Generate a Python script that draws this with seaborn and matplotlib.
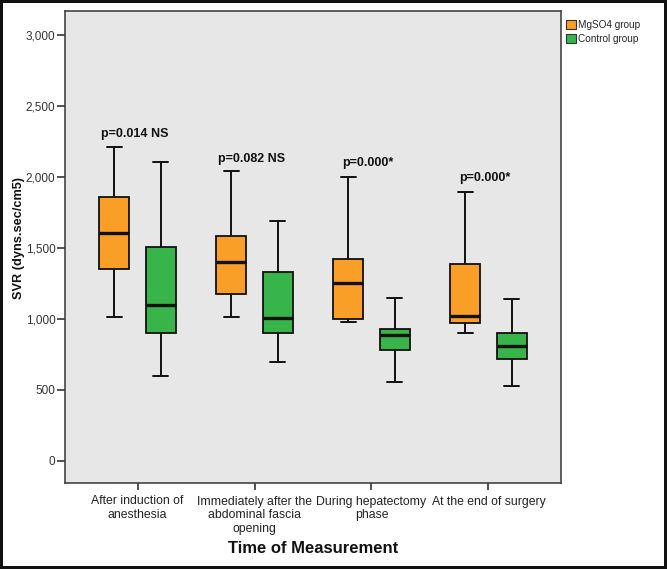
import numpy as np
import pandas as pd
import matplotlib
matplotlib.use("Agg")
import matplotlib.pyplot as plt
from matplotlib.ticker import FuncFormatter
from matplotlib.patches import Patch
import seaborn as sns

# ---- data (five-number summaries) ----
times = ["After induction of\nanesthesia",
         "Immediately after the\nabdominal fascia\nopening",
         "During hepatectomy\nphase",
         "At the end of surgery"]
groups = ["MgSO4 group", "Control group"]

mg_low = [1016, 1012, 979, 904]
mg_q1 = [1350, 1178, 1000, 970]
mg_med = [1603, 1404, 1256, 1023]
mg_q3 = [1861, 1587, 1423, 1385]
mg_high = [2209, 2042, 1998, 1892]

ct_low = [599, 699, 558, 530]
ct_q1 = [904, 904, 782, 718]
ct_med = [1101, 1009, 889, 812]
ct_q3 = [1507, 1333, 927, 899]
ct_high = [2103, 1692, 1148, 1139]

p_labels = ["p=0.014 NS", "p=0.082 NS", "p=0.000*", "p=0.000*"]
p_y = [2303, 2127, 2099, 1993]

colors = ["#f99e26", "#37b54a"]

rows = []
for g, (lo, q1, md, q3, hi) in zip(groups, [(mg_low, mg_q1, mg_med, mg_q3, mg_high),
                                             (ct_low, ct_q1, ct_med, ct_q3, ct_high)]):
    for i, t in enumerate(times):
        for v in (lo[i], q1[i], md[i], q3[i], hi[i]):
            rows.append({"time": t, "group": g, "SVR": v})
df = pd.DataFrame(rows)

sns.set_style("white")
plt.rcParams["font.family"] = ["Liberation Sans", "DejaVu Sans"]

fig = plt.figure(figsize=(6.67, 5.69), dpi=100)
fig.patch.set_facecolor("white")
fig.patch.set_edgecolor("#111111")
fig.patch.set_linewidth(4)
ax = fig.add_axes([65/667, 1-483/569, (561-65)/667, (483-11)/569])
ax.set_facecolor("#e7e7e7")

sns.boxplot(data=df, x="time", y="SVR", hue="group", order=times, hue_order=groups,
            palette=colors, saturation=1, whis=(0, 100), width=0.8, gap=0.36,
            linecolor="#111111", linewidth=1.3,
            medianprops=dict(linewidth=2.4, color="#111111"),
            whiskerprops=dict(linewidth=1.4), capprops=dict(linewidth=1.4),
            legend=False, ax=ax)

ax.set_xlim(-0.62, 3.62)
ax.set_ylim(-155, 3169)
ax.set_yticks(np.arange(0, 3001, 500))
ax.yaxis.set_major_formatter(FuncFormatter(lambda v, p: f"{v:,.0f}"))
ax.tick_params(axis="y", left=True, length=5.8, width=1.2, color="#333333", labelsize=8.5,
               labelcolor="#333333", pad=1)
ax.tick_params(axis="x", bottom=True, length=5, width=1.2, color="#333333", labelsize=8.8,
               labelcolor="#222222", pad=4)
for s in ax.spines.values():
    s.set_color("#444444")
    s.set_linewidth(1.2)

ax.set_xlabel("Time of Measurement", fontsize=12, fontweight="bold", color="#111111")
ax.xaxis.set_label_coords(0.5, -0.122)
ax.set_ylabel("SVR (dyns.sec/cm5)", fontsize=9.2, fontweight="bold", color="#111111")
ax.yaxis.set_label_coords(-0.08, 0.52)

xoff = [-0.316, 0.686, 1.746, 2.746]
for x, y, s in zip(xoff, p_y, p_labels):
    ax.text(x, y, s, fontsize=9, fontweight="bold", ha="left", va="center", color="#111111")

handles = [Patch(facecolor=c, edgecolor="#333333", linewidth=0.8) for c in colors]
fig.legend(handles, groups, loc="upper left", bbox_to_anchor=(566/667, 1-20/569),
           frameon=False, fontsize=7.2, handlelength=0.95, handleheight=0.95,
           handletextpad=0.3, labelspacing=0.4, borderpad=0, borderaxespad=0)

fig.savefig("out.png", dpi=100)
